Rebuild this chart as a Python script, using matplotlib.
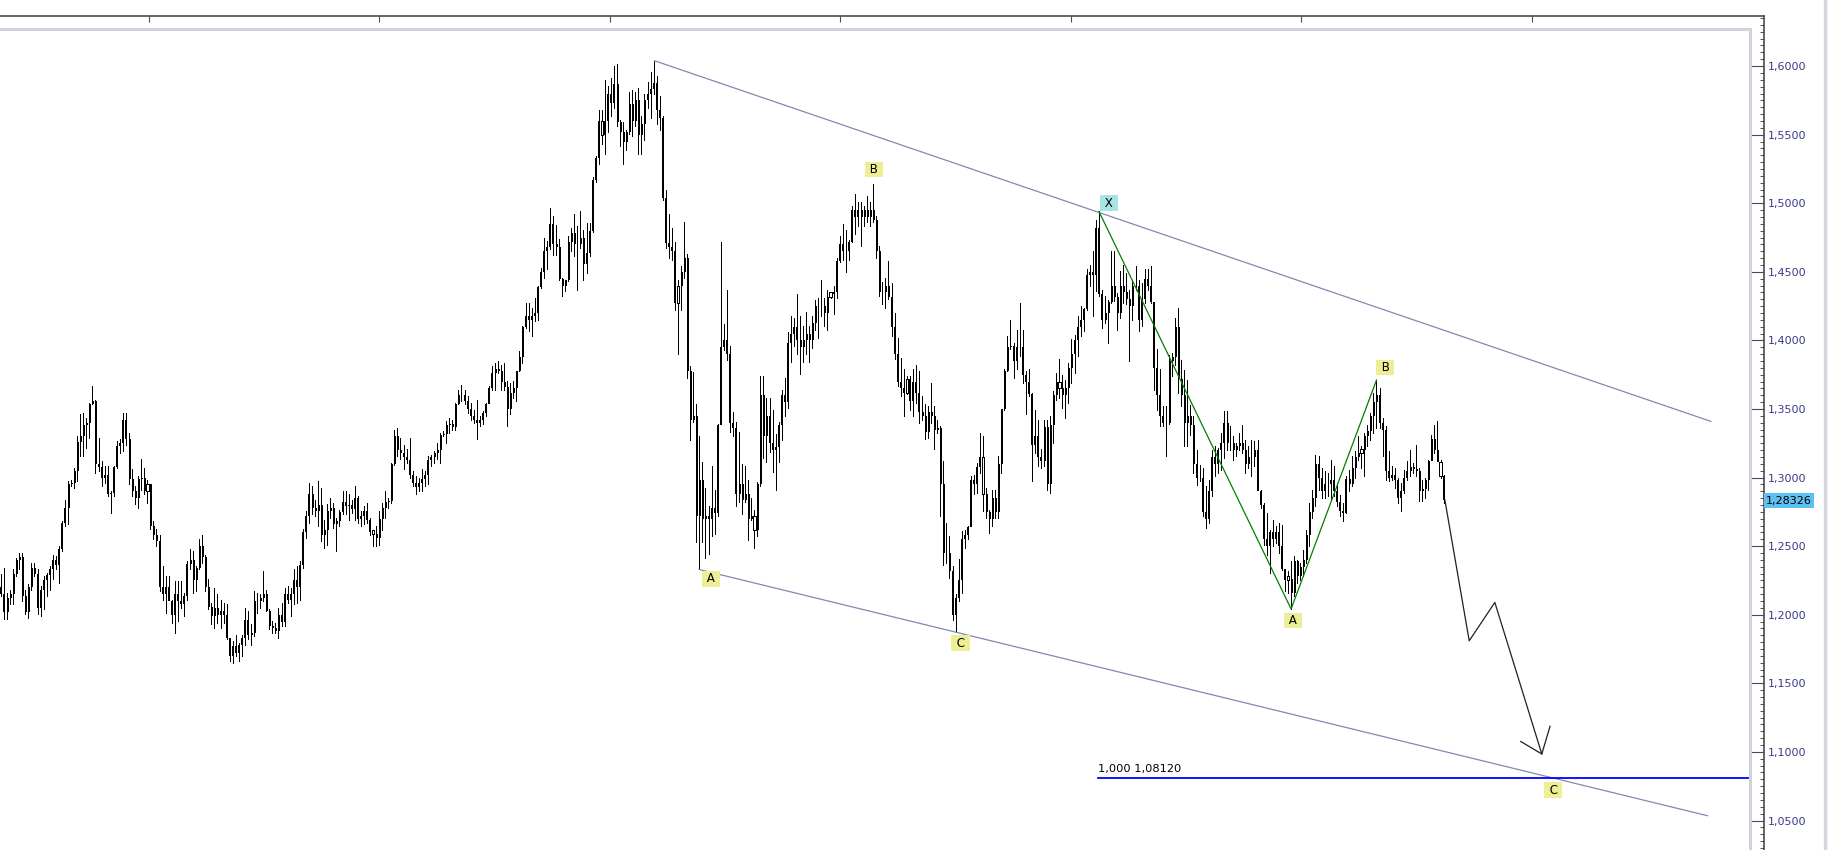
import matplotlib
matplotlib.use("Agg")
import matplotlib.pyplot as plt
import numpy as np
from matplotlib.lines import Line2D
from matplotlib.patches import Rectangle
from matplotlib.ticker import MultipleLocator, FuncFormatter

# Weekly bars, prices in 1/10000 (open of each bar = close of the previous one)
high_pips = [
    12294, 12342, 12160, 12184, 12330, 12415, 12452, 12452, 12184, 12221,
    12379, 12379, 12330, 12209, 12282, 12306, 12354, 12439, 12427, 12500,
    12682, 12840, 12974, 12986, 13071, 13302, 13460, 13472, 13436, 13545,
    13666, 13569, 13290, 13120, 13083, 13083, 12901, 13083, 13266, 13278,
    13472, 13472, 13326, 13059, 12937, 13010, 13132, 13071, 12986, 12901,
    12682, 12622, 12585, 12354, 12282, 12282, 12111, 12245, 12245, 12245,
    12160, 12391, 12476, 12464, 12354, 12549, 12585, 12439, 12257, 12087,
    12196, 12148, 12111, 12087, 12075, 11832, 11808, 11856, 11795, 11856,
    12051, 12026, 11929, 12172, 12160, 12148, 12318, 12184, 12039, 11954,
    11941, 12051, 12087, 12196, 12209, 12196, 12330, 12354, 12391, 12626,
    12755, 12962, 12937, 12840, 12974, 12925, 12694, 12804, 12852, 12816,
    12706, 12767, 12901, 12901, 12877, 12840, 12937, 12864, 12755, 12792,
    12816, 12706, 12609, 12646, 12755, 12816, 12901, 12852, 13107, 13350,
    13363, 13290, 13241, 13205, 13290, 13047, 13010, 12998, 13059, 13047,
    13156, 13168, 13193, 13253, 13326, 13338, 13411, 13435, 13423, 13545,
    13642, 13678, 13642, 13593, 13545, 13496, 13569, 13448, 13484, 13545,
    13666, 13812, 13836, 13849, 13824, 13836, 13703, 13691, 13703, 13776,
    13921, 14104, 14274, 14274, 14237, 14310, 14395, 14529, 14748, 14723,
    14966, 14906, 14845, 14736, 14456, 14444, 14760, 14821, 14918, 14833,
    14942, 14808, 14857, 14857, 15193, 15347, 15683, 15683, 15901, 15858,
    15916, 16003, 16018, 15610, 15595, 15537, 15814, 15829, 15814, 15843,
    15639, 15799, 15887, 15960, 16038, 15930, 15785, 15639, 15099, 14924,
    14822, 14720, 14443, 14545, 14866, 14633, 13816, 13773, 13539, 13306,
    13117, 12927, 12796, 13087, 12912, 13394, 14719, 14122, 14370, 13962,
    13481, 13408, 13335, 13102, 13087, 12985, 12854, 12767, 12971, 13743,
    13743, 13583, 13583, 13496, 13321, 13408, 13641, 13729, 14064, 14181,
    14166, 14341, 14181, 14108, 14210, 14108, 14181, 14297, 14312, 14443,
    14312, 14370, 14356, 14400, 14604, 14764, 14852, 14808, 14735, 14983,
    15070, 15012, 15012, 14983, 15056, 15012, 15143, 14910, 14691, 14429,
    14458, 14578, 14420, 14201, 14019, 13873, 13788, 13739, 13739, 13788,
    13824, 13776, 13593, 13533, 13520, 13691, 13520, 13423, 13375, 13120,
    12670, 12573, 12354, 12148, 12403, 12609, 12621, 12646, 13010, 13022,
    13107, 13326, 13302, 12925, 12767, 12913, 12913, 13156, 13496, 13788,
    14031, 14152, 13982, 14079, 14274, 14079, 13776, 13788, 13620, 13496,
    13423, 13205, 13423, 13423, 13448, 13630, 13764, 13861, 13751, 13715,
    13836, 14007, 14043, 14177, 14249, 14237, 14517, 14553, 14650, 14881,
    14940, 14371, 14322, 14298, 14650, 14650, 14347, 14505, 14553, 14492,
    14371, 14444, 14541, 14444, 14420, 14517, 14517, 14541, 14274, 13934,
    13788, 13520, 13520, 13897, 13909, 14164, 14237, 13860, 13787, 13714,
    13532, 13447, 13204, 13095, 13070, 12937, 12985, 13204, 13228, 13216,
    13325, 13483, 13483, 13374, 13301, 13253, 13325, 13386, 13277, 13228,
    13277, 13265, 13277, 12912, 12815, 12742, 12621, 12694, 12645, 12669,
    12657, 12329, 12317, 12390, 12426, 12402, 12378, 12475, 12621, 12815,
    12912, 13168, 13155, 13070, 13046, 13034, 13131, 13083, 12961, 12876,
    12815, 13010, 13058, 13155, 13192, 13301, 13228, 13325, 13386, 13471,
    13617, 13711, 13654, 13435, 13374, 13192, 13083, 13070, 12997, 12961,
    13058, 13119, 13204, 13107, 13240, 13070, 12985, 12997, 13131, 13313,
    13386, 13410, 13131, 13022,
]
low_pips = [
    12136, 11966, 11966, 12075, 12075, 12282, 12330, 12099, 12002, 11978,
    12184, 12282, 12002, 11990, 12039, 12136, 12184, 12257, 12330, 12233,
    12464, 12646, 12658, 12937, 12925, 12974, 13156, 13156, 13217, 13290,
    13533, 13035, 13047, 12937, 12962, 12865, 12743, 12865, 13071, 13181,
    13193, 13241, 12950, 12865, 12804, 12780, 12913, 12877, 12816, 12622,
    12549, 12500, 12172, 12111, 12014, 12111, 11941, 11868, 11954, 12051,
    11990, 12111, 12330, 12160, 12172, 12330, 12379, 12172, 12039, 11929,
    11905, 11941, 11905, 11941, 11820, 11662, 11650, 11698, 11662, 11698,
    11783, 11820, 11783, 11844, 12014, 12051, 12099, 12026, 11893, 11868,
    11868, 11832, 11917, 11917, 12087, 11990, 12075, 12087, 12111, 12342,
    12561, 12670, 12731, 12719, 12646, 12536, 12488, 12512, 12706, 12634,
    12464, 12646, 12731, 12731, 12694, 12743, 12694, 12670, 12646, 12658,
    12670, 12585, 12500, 12500, 12512, 12621, 12706, 12779, 12816, 13095,
    13156, 13132, 13059, 13107, 12998, 12937, 12877, 12901, 12901, 12937,
    12950, 13083, 13107, 13132, 13107, 13302, 13253, 13326, 13350, 13350,
    13533, 13557, 13533, 13472, 13423, 13399, 13278, 13375, 13387, 13448,
    13545, 13642, 13642, 13764, 13642, 13642, 13375, 13460, 13581, 13557,
    13776, 13836, 14092, 14067, 14031, 14140, 14152, 14383, 14456, 14517,
    14663, 14626, 14626, 14440, 14322, 14359, 14430, 14650, 14614, 14371,
    14675, 14444, 14493, 14614, 14793, 15158, 15289, 15435, 15362, 15522,
    15639, 15697, 15566, 15420, 15289, 15391, 15508, 15493, 15566, 15362,
    15362, 15464, 15697, 15624, 15799, 15581, 15537, 15027, 14677, 14604,
    14589, 14225, 13904, 14225, 14458, 13729, 13277, 13408, 12533, 12330,
    12533, 12417, 12446, 12577, 12592, 12723, 13390, 13933, 13860, 13335,
    13306, 12796, 12825, 12738, 12825, 12548, 12694, 12490, 12577, 12942,
    13146, 13117, 13189, 13044, 12912, 13117, 13277, 13452, 13510, 13845,
    13962, 13904, 13758, 13845, 13904, 13845, 13948, 14079, 14020, 14181,
    14108, 14079, 14312, 14195, 14312, 14575, 14589, 14502, 14589, 14720,
    14779, 14837, 14691, 14837, 14866, 14837, 14866, 14604, 14327, 14268,
    14239, 14300, 14031, 13861, 13666, 13593, 13448, 13606, 13496, 13448,
    13545, 13399, 13423, 13278, 13290, 13399, 13205, 13326, 12719, 12366,
    12378, 12269, 11965, 11876, 12099, 12160, 12488, 12549, 12646, 12877,
    12889, 13035, 12755, 12706, 12597, 12646, 12706, 12706, 13035, 13496,
    13776, 13934, 13727, 13788, 13885, 13691, 13460, 13593, 12974, 13180,
    13083, 13071, 13083, 12913, 12889, 13253, 13569, 13581, 13508, 13435,
    13545, 13691, 13764, 13885, 14031, 14067, 14225, 14395, 14177, 14359,
    14322, 14092, 14128, 13982, 14274, 14286, 14079, 14164, 14274, 14262,
    13849, 14152, 14371, 14067, 14104, 14274, 14371, 14274, 13642, 13496,
    13375, 13375, 13156, 13387, 13739, 13824, 13618, 13520, 13228, 13228,
    13313, 13034, 12949, 12973, 12718, 12633, 12669, 12864, 13010, 13034,
    13058, 13143, 13204, 13204, 13131, 13155, 13204, 13180, 13034, 13070,
    13010, 13083, 12912, 12779, 12511, 12438, 12305, 12499, 12524, 12451,
    12329, 12171, 12159, 12042, 12135, 12232, 12256, 12281, 12378, 12499,
    12706, 12791, 12912, 12852, 12852, 12864, 12840, 12864, 12791, 12718,
    12682, 12740, 12900, 12937, 12998, 13131, 13070, 13010, 13228, 13277,
    13325, 13362, 13362, 13155, 12985, 12973, 12985, 12924, 12815, 12754,
    12888, 12985, 13010, 13034, 13010, 12827, 12827, 12852, 12912, 13155,
    13180, 13131, 12997, 12815,
]
close_pips = [
    12150, 12020, 12120, 12150, 12300, 12400, 12420, 12140, 12020, 12200,
    12340, 12300, 12050, 12180, 12250, 12290, 12330, 12400, 12360, 12480,
    12670, 12780, 12950, 12960, 13050, 13260, 13300, 13380, 13400, 13540,
    13560, 13100, 13080, 13000, 13020, 12880, 12890, 13075, 13230, 13250,
    13420, 13280, 12990, 12900, 12850, 12990, 13000, 12900, 12950, 12650,
    12580, 12540, 12200, 12150, 12200, 12100, 12000, 12150, 12100, 12080,
    12140, 12370, 12400, 12250, 12340, 12500, 12420, 12200, 12060, 11990,
    12050, 12000, 12030, 12000, 11830, 11700, 11770, 11720, 11780, 11830,
    11960, 11850, 11870, 12100, 12100, 12120, 12150, 12030, 11920, 11900,
    11880, 12000, 11950, 12150, 12110, 12150, 12250, 12200, 12360, 12600,
    12720, 12880, 12780, 12760, 12800, 12580, 12620, 12760, 12780, 12660,
    12680, 12750, 12820, 12790, 12800, 12770, 12850, 12700, 12720, 12760,
    12690, 12600, 12590, 12560, 12700, 12780, 12820, 12830, 13100, 13300,
    13200, 13180, 13150, 13130, 13020, 12960, 12930, 12960, 12990, 13020,
    13130, 13150, 13180, 13200, 13310, 13320, 13380, 13390, 13370, 13540,
    13600, 13600, 13560, 13500, 13450, 13420, 13400, 13420, 13470, 13540,
    13650, 13760, 13790, 13780, 13700, 13660, 13500, 13620, 13650, 13780,
    13880, 14100, 14180, 14150, 14180, 14200, 14390, 14500, 14650, 14680,
    14850, 14700, 14680, 14450, 14400, 14440, 14720, 14780, 14700, 14700,
    14750, 14560, 14640, 14800, 15170, 15330, 15600, 15500, 15600, 15800,
    15730, 15870, 15590, 15520, 15450, 15520, 15720, 15600, 15750, 15500,
    15580, 15750, 15800, 15830, 15880, 15680, 15620, 15040, 14710, 14680,
    14650, 14270, 14400, 14500, 14600, 13780, 13420, 13450, 12720, 12980,
    12700, 12720, 12700, 12780, 12740, 13380, 13950, 14000, 13900, 13400,
    13360, 12880, 12950, 12840, 12880, 12700, 12720, 12620, 12950, 13600,
    13300, 13450, 13250, 13200, 13220, 13380, 13600, 13550, 13980, 14050,
    14100, 14000, 13950, 14000, 14050, 14000, 14130, 14250, 14250, 14250,
    14200, 14320, 14340, 14350, 14580, 14700, 14650, 14650, 14720, 14950,
    14900, 14950, 14900, 14950, 14900, 14950, 14880, 14650, 14350, 14350,
    14400, 14320, 14100, 13900, 13700, 13650, 13620, 13720, 13560, 13700,
    13620, 13480, 13450, 13330, 13480, 13450, 13350, 13360, 12950, 12450,
    12450, 12320, 12000, 12120, 12250, 12550, 12580, 12640, 12980, 12950,
    13080, 13150, 12880, 12750, 12700, 12850, 12750, 13100, 13500, 13780,
    13950, 13960, 13850, 13950, 13950, 13750, 13700, 13610, 13240, 13300,
    13150, 13120, 13370, 12950, 13380, 13600, 13700, 13650, 13600, 13650,
    13800, 13900, 14000, 14100, 14150, 14230, 14480, 14500, 14480, 14820,
    14340, 14150, 14200, 14280, 14400, 14320, 14200, 14400, 14350, 14300,
    14250, 14400, 14400, 14150, 14300, 14450, 14400, 14280, 13800, 13600,
    13450, 13400, 13400, 13850, 13880, 14100, 13720, 13600, 13400, 13450,
    13380, 13100, 13000, 13000, 12750, 12700, 12900, 13150, 13100, 13200,
    13250, 13400, 13250, 13250, 13200, 13230, 13250, 13200, 13100, 13150,
    13150, 13200, 12900, 12800, 12550, 12500, 12600, 12550, 12600, 12500,
    12330, 12250, 12260, 12160, 12390, 12280, 12350, 12400, 12580, 12750,
    12850, 13100, 13000, 12900, 12950, 12950, 12980, 12900, 12820, 12760,
    12745, 12990, 12950, 13070, 13150, 13180, 13200, 13300, 13340, 13450,
    13550, 13600, 13400, 13350, 13050, 13000, 13020, 12980, 12850, 12900,
    13000, 13050, 13080, 13060, 13050, 12900, 12920, 12980, 13120, 13280,
    13200, 13110, 13010, 12833,
]
first_open = 12200
hollow_bars = [48, 122, 197, 222, 247, 272, 297, 322, 347, 422, 446, 472]

# Drawn objects (bar index, price)
upper_channel_x = [214.4, 560.6]
upper_channel_y = [1.6038, 1.3410]
lower_channel_x = [228.9, 559.5]
lower_channel_y = [1.2330, 1.0535]
zigzag_x = [360, 423, 451]
zigzag_y = [1.4940, 1.2042, 1.3711]
projection_x = [473.4, 481.4, 489.8, 505.2]
projection_y = [1.2839, 1.1810, 1.2090, 1.0985]
arrow_head_x = [498.3, 505.2, 507.9]
arrow_head_y = [1.1076, 1.0985, 1.1187]
target_level = 1.0812
target_x = [359.7, 572.8]
target_text = "1,000 1,08120"
wave_labels = ["A", "B", "C", "X", "A", "B", "C"]
wave_x = [232.7, 286.2, 314.6, 363.2, 423.6, 453.9, 509.0]
wave_y = [1.2262, 1.5248, 1.1794, 1.5001, 1.1956, 1.3801, 1.0722]
wave_colors = ["#eeee96", "#eeee96", "#eeee96", "#a6e4e6", "#eeee96", "#eeee96", "#eeee96"]
last_price = 1.28326
top_ticks = [48.5, 124.1, 199.7, 275.2, 350.8, 426.4, 502.0]

plt.rcParams['font.family'] = ['DejaVu Sans']

W, H = 1830, 850
fig = plt.figure(figsize=(W / 100, H / 100), dpi=100)
fig.patch.set_facecolor('white')
ax = fig.add_axes([0, 0, 1764 / W, 834 / H])
ax.set_xlim(-0.311, 578.05)
ax.set_ylim(1.0285, 1.6365)

# candles: 1 px wick, 2 px body
hi = np.array(high_pips) / 1e4
lo = np.array(low_pips) / 1e4
cl = np.array(close_pips) / 1e4
op = np.concatenate([[first_open], close_pips[:-1]]) / 1e4
xs = np.arange(len(cl))
ax.vlines(xs, lo, hi, color='black', lw=0.72, zorder=3, antialiased=False)
b_lo = np.minimum(op, cl)
b_hi = np.maximum(op, cl)
solid = np.ones(len(cl), bool)
solid[hollow_bars] = False
ax.vlines(xs[solid] + 0.16, b_lo[solid], b_hi[solid], color='black', lw=1.3, zorder=3,
          antialiased=False)
for i in hollow_bars:
    h = max(b_hi[i] - b_lo[i], 0.003)
    ax.add_patch(Rectangle((i - 0.4, b_lo[i]), 0.85, h, fc='white', ec='black',
                           lw=0.7, zorder=4, antialiased=False))

# channel, zigzag, projection
ax.plot(upper_channel_x, upper_channel_y, color='#8088b4', lw=0.9, zorder=5)
ax.plot(lower_channel_x, lower_channel_y, color='#8088b4', lw=0.9, zorder=5)
ax.plot(zigzag_x, zigzag_y, color='#008000', lw=0.9, zorder=5)
ax.plot(projection_x, projection_y, color='#202020', lw=0.9, zorder=5)
ax.plot(arrow_head_x, arrow_head_y, color='#202020', lw=0.9, zorder=5)
ax.plot(target_x, [target_level, target_level], color='#0000ff', lw=1.3, zorder=5)
ax.text(target_x[0], target_level + 0.0025, target_text, fontsize=8.2, color='black',
        ha='left', va='bottom', zorder=6)

for lab, wx, wy, c in zip(wave_labels, wave_x, wave_y, wave_colors):
    ax.text(wx, wy, f" {lab} ", fontsize=8.6, ha='center', va='center', color='black', zorder=7,
            bbox=dict(boxstyle='square,pad=0.1', fc=c, ec='none'))

# frame
for s in ['left', 'bottom']:
    ax.spines[s].set_visible(False)
for s in ['top', 'right']:
    ax.spines[s].set_color('#4c4c4c')
    ax.spines[s].set_linewidth(1.2)
bx = 1750 / 1764
by = (850 - 29) / 834
ax.plot([0, bx], [by, by], transform=ax.transAxes, color='#ccd3dc', lw=2.2, zorder=2, clip_on=False)
ax.plot([bx, bx], [0, by], transform=ax.transAxes, color='#ccd3dc', lw=2.2, zorder=2, clip_on=False)

ax.yaxis.tick_right()
ax.yaxis.set_major_locator(MultipleLocator(0.05))
ax.yaxis.set_minor_locator(MultipleLocator(0.005))
ax.yaxis.set_major_formatter(FuncFormatter(lambda v, p: f"{v:.4f}".replace('.', ',')))
ax.tick_params(axis='y', which='major', direction='in', length=10, width=0.8,
               color='#4c4c4c', labelsize=8, labelcolor='#3a3a88', pad=3)
ax.tick_params(axis='y', which='minor', direction='in', length=3, width=0.7, color='#4c4c4c')
ax.xaxis.tick_top()
ax.set_xticks(top_ticks)
ax.tick_params(axis='x', direction='in', length=4, width=0.8, color='#4c4c4c',
               labeltop=False, labelbottom=False)

ax.text(1.0012, last_price, "1,28326", transform=ax.get_yaxis_transform(), fontsize=8,
        ha='left', va='center', color='black', zorder=10, clip_on=False,
        bbox=dict(boxstyle='square,pad=0.2', fc='#5cc0f2', ec='none'))

fig.add_artist(Line2D([1825 / W, 1825 / W], [0, 1], color='#d3d8df', lw=2.5))

fig.savefig('out.png', dpi=100)
